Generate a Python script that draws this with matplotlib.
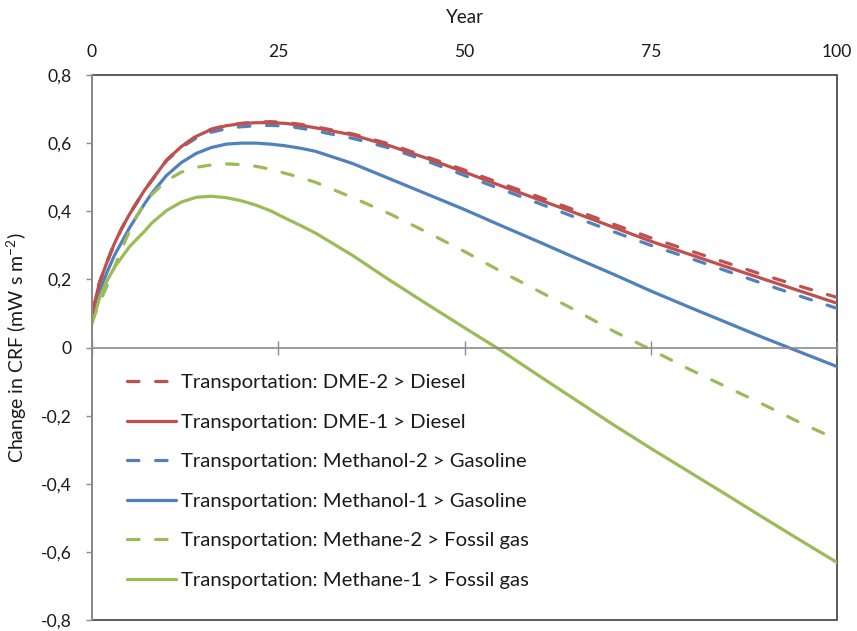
import matplotlib
matplotlib.use("Agg")
import matplotlib.pyplot as plt
from matplotlib.ticker import FuncFormatter, FixedLocator
from matplotlib.patches import Rectangle

plt.rcParams['font.family'] = ['Lato', 'DejaVu Sans']
plt.rcParams['mathtext.fontset'] = 'custom'
plt.rcParams['mathtext.rm'] = 'Lato'
plt.rcParams['mathtext.it'] = 'Lato:italic'

years = [0, 1, 2, 3, 4, 5, 6, 7, 8, 10, 12, 14, 16, 18, 20, 22, 24, 26, 28, 30,
         35, 40, 45, 50, 55, 60, 65, 70, 75, 80, 85, 90, 95, 100]

dme2 = [0.10, 0.19, 0.25, 0.305, 0.35, 0.39, 0.425, 0.46, 0.49, 0.55, 0.59, 0.621, 0.641,
        0.652, 0.658, 0.662, 0.663, 0.661, 0.655, 0.648, 0.627, 0.597, 0.559, 0.521,
        0.481, 0.442, 0.402, 0.362, 0.322, 0.286, 0.25, 0.214, 0.18, 0.147]
dme1 = [0.10, 0.19, 0.25, 0.305, 0.35, 0.39, 0.425, 0.46, 0.49, 0.55, 0.59, 0.62, 0.64,
        0.651, 0.657, 0.66, 0.66, 0.658, 0.652, 0.645, 0.624, 0.592, 0.555, 0.515,
        0.474, 0.434, 0.394, 0.353, 0.312, 0.275, 0.238, 0.202, 0.166, 0.13]
methanol2 = [0.10, 0.19, 0.25, 0.305, 0.35, 0.39, 0.425, 0.46, 0.49, 0.548, 0.587, 0.615,
             0.632, 0.642, 0.648, 0.651, 0.652, 0.65, 0.644, 0.636, 0.614, 0.585, 0.547,
             0.505, 0.464, 0.423, 0.381, 0.34, 0.30, 0.264, 0.226, 0.188, 0.151, 0.115]
methanol1 = [0.09, 0.165, 0.22, 0.27, 0.31, 0.35, 0.385, 0.42, 0.452, 0.505, 0.543, 0.57,
             0.587, 0.597, 0.60, 0.60, 0.597, 0.592, 0.585, 0.576, 0.54, 0.495, 0.45,
             0.405, 0.357, 0.31, 0.262, 0.215, 0.166, 0.12, 0.075, 0.03, -0.013, -0.056]
methane2 = [0.075, 0.13, 0.18, 0.235, 0.29, 0.34, 0.385, 0.42, 0.448, 0.49, 0.515, 0.529,
            0.536, 0.539, 0.537, 0.532, 0.523, 0.511, 0.499, 0.485, 0.44, 0.392, 0.338,
            0.282, 0.222, 0.165, 0.108, 0.048, -0.006, -0.062, -0.114, -0.166, -0.22, -0.27]
methane1 = [0.07, 0.145, 0.195, 0.235, 0.265, 0.295, 0.318, 0.34, 0.365, 0.402, 0.427,
            0.441, 0.444, 0.44, 0.431, 0.418, 0.401, 0.379, 0.358, 0.336, 0.27, 0.197,
            0.127, 0.058, -0.01, -0.083, -0.155, -0.227, -0.296, -0.363, -0.43, -0.498,
            -0.565, -0.631]

labels = ["Transportation: DME-2 > Diesel",
          "Transportation: DME-1 > Diesel",
          "Transportation: Methanol-2 > Gasoline",
          "Transportation: Methanol-1 > Gasoline",
          "Transportation: Methane-2 > Fossil gas",
          "Transportation: Methane-1 > Fossil gas"]
series = [dme2, dme1, methanol2, methanol1, methane2, methane1]

x_ticks = [0, 25, 50, 75, 100]
y_ticks = [-0.8, -0.6, -0.4, -0.2, 0.0, 0.2, 0.4, 0.6, 0.8]

RED = '#C0504D'
BLUE = '#4F81BD'
GREEN = '#9BBB59'
colors = [RED, RED, BLUE, BLUE, GREEN, GREEN]
dashed = [True, False, True, False, True, False]

TXT = '#1a1a1a'
fig = plt.figure(figsize=(8.57, 6.31), dpi=100)
ax = fig.add_axes([92/857, 1-620/631, 745/857, 545/631])

order = [2, 3, 4, 5, 1, 0]
handles = {}
for i in order:
    if dashed[i]:
        ln, = ax.plot(years, series[i], color=colors[i], lw=2.3,
                      linestyle=(0, (3.6, 5.2)), dash_capstyle='round', label=labels[i])
    else:
        ln, = ax.plot(years, series[i], color=colors[i], lw=2.3,
                      solid_capstyle='round', solid_joinstyle='round', label=labels[i])
    handles[i] = ln

ax.set_xlim(0, 100)
ax.set_ylim(-0.8, 0.8)
ax.xaxis.set_major_locator(FixedLocator(x_ticks))
ax.yaxis.set_major_locator(FixedLocator(y_ticks))

def yfmt(v, pos):
    if abs(v) < 1e-9:
        return "0"
    return f"{v:.1f}".replace('.', ',')

ax.yaxis.set_major_formatter(FuncFormatter(yfmt))

# x axis crossing at zero, labels on top
ax.spines['bottom'].set_position(('data', 0))
ax.spines['bottom'].set_color('#8C8C8C')
ax.spines['bottom'].set_linewidth(1.2)
ax.spines['left'].set_color('#8C8C8C')
ax.spines['left'].set_linewidth(1.4)
ax.spines['top'].set_visible(False)
ax.spines['right'].set_visible(False)
ax.add_patch(Rectangle((0, 0), 1, 1, transform=ax.transAxes, fill=False,
                       edgecolor='#404040', lw=1.2, zorder=0.5, clip_on=False))

ax.tick_params(axis='x', which='both', bottom=True, top=False, labelbottom=False,
               labeltop=True, direction='inout', length=10, width=1.0,
               color='#8C8C8C', pad=6, labelsize=12.6, labelcolor=TXT)
ax.tick_params(axis='y', direction='out', length=4.3, width=1.0, color='#8C8C8C',
               pad=10.5, labelsize=12.6, labelcolor=TXT)

ax.set_xlabel("Year", fontsize=13.5, color=TXT)
ax.xaxis.set_label_position('top')
ax.xaxis.set_label_coords(0.5, (620-23)/545)
ax.set_ylabel("Change in CRF (mW s m$^{\\mathregular{-2}}$)", fontsize=14, color=TXT)
ax.yaxis.set_label_coords((29-92)/745, 0.5)

leg = ax.legend([handles[i] for i in range(6)], labels, loc='upper left',
                bbox_to_anchor=((127-92)/745, (620-374)/545), borderaxespad=0,
                borderpad=0, frameon=False, fontsize=14.6, handlelength=2.4,
                handletextpad=0.25, labelspacing=1.1)
for t in leg.get_texts():
    t.set_color(TXT)

fig.savefig("out.png", dpi=100)
